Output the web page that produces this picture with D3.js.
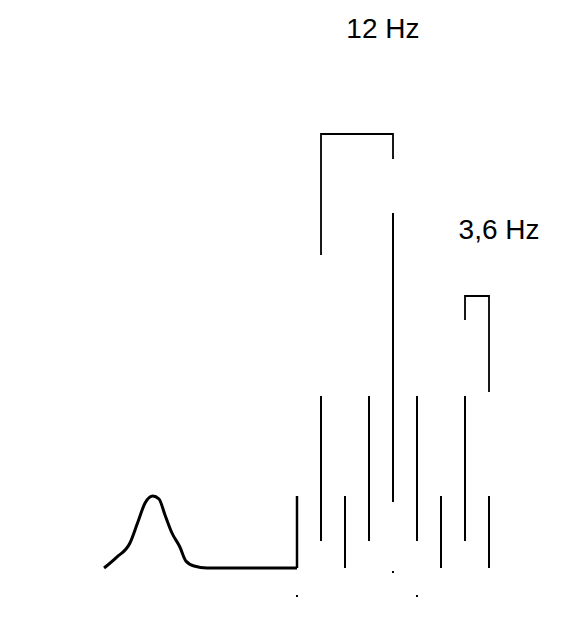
<!DOCTYPE html>
<html>
<head>
<meta charset="utf-8">
<script src="https://cdn.jsdelivr.net/npm/d3@7"></script>
<style>
body{margin:0;background:#fff;}
svg text{font-family:"Liberation Sans",Arial,sans-serif;}
</style>
</head>
<body>
<div id="chart"></div>
<script>
// broad peak on the left (x in line spacings, y in height above baseline)
var peakX = [-8.04, -7.52, -6.96, -6.63, -6.33, -6.01, -5.75, -5.5, -5.21, -4.88, -4.63, -4.29, -3.75, 0];
var peakY = [0, 10.7, 25, 46, 65, 72, 69, 53, 35, 21, 7, 2, 0, 0];

// split lines
var stickX    = [0, 1, 2, 3, 4, 5, 6, 7, 8];
var stickLow  = [0, 27, 0, 27, 66, 27, 0, 27, 0];
var stickHigh = [72, 172, 72, 172, 355, 172, 72, 172, 72];

// coupling brackets
var bracketLabels = ["12 Hz", "3,6 Hz"];
var bracketLeft   = [1, 7];
var bracketRight  = [4, 8];
var bracketTop    = [434, 272];
var bracketLeftEnd  = [313, 248];
var bracketRightEnd = [409, 176];
var labelX = [3.58, 8.42];
var labelY = [530, 329];

// small marks under the lines
var dotX = [4, 0, 5];
var dotY = [-4, -28, -28];

var width = 578, height = 621;

var svg = d3.select("#chart").append("svg")
    .attr("width", width)
    .attr("height", height);

var x = d3.scaleLinear().domain([-8, 8]).range([105, 489]);
var y = d3.scaleLinear().domain([0, 568]).range([568, 0]);

var line = d3.line()
    .x(function(d){return x(d[0]);})
    .y(function(d){return y(d[1]);})
    .curve(d3.curveMonotoneX);

var pts = peakX.map(function(v,i){return [v, peakY[i]];});
svg.append("path")
    .datum(pts)
    .attr("d", line)
    .style("fill","none")
    .style("stroke","black")
    .style("stroke-width","3px")
    .style("stroke-linejoin","round");

svg.selectAll("line.stick")
    .data(stickX)
    .enter().append("line")
    .attr("class","stick")
    .attr("x1", function(d){return x(d);})
    .attr("x2", function(d){return x(d);})
    .attr("y1", function(d,i){return y(stickLow[i]);})
    .attr("y2", function(d,i){return y(stickHigh[i]);})
    .style("stroke","black")
    .style("stroke-width", function(d,i){return i==0 ? "2.5px" : "2px";});

for(var i = 0; i < bracketLabels.length; i++){
    var p = d3.path();
    p.moveTo(x(bracketLeft[i]), y(bracketLeftEnd[i]));
    p.lineTo(x(bracketLeft[i]), y(bracketTop[i]));
    p.lineTo(x(bracketRight[i]), y(bracketTop[i]));
    p.lineTo(x(bracketRight[i]), y(bracketRightEnd[i]));
    svg.append("path")
        .attr("d", p.toString())
        .style("fill","none")
        .style("stroke","black")
        .style("stroke-width","1.8px");
    svg.append("text")
        .attr("x", x(labelX[i]))
        .attr("y", y(labelY[i]))
        .attr("text-anchor","middle")
        .style("font-size","28px")
        .style("fill","black")
        .text(bracketLabels[i]);
}

svg.selectAll("rect.dot")
    .data(dotX)
    .enter().append("rect")
    .attr("class","dot")
    .attr("x", function(d){return x(d)-1;})
    .attr("y", function(d,i){return y(dotY[i])-1;})
    .attr("width", 2)
    .attr("height", 2)
    .style("fill","black");
</script>
</body>
</html>
